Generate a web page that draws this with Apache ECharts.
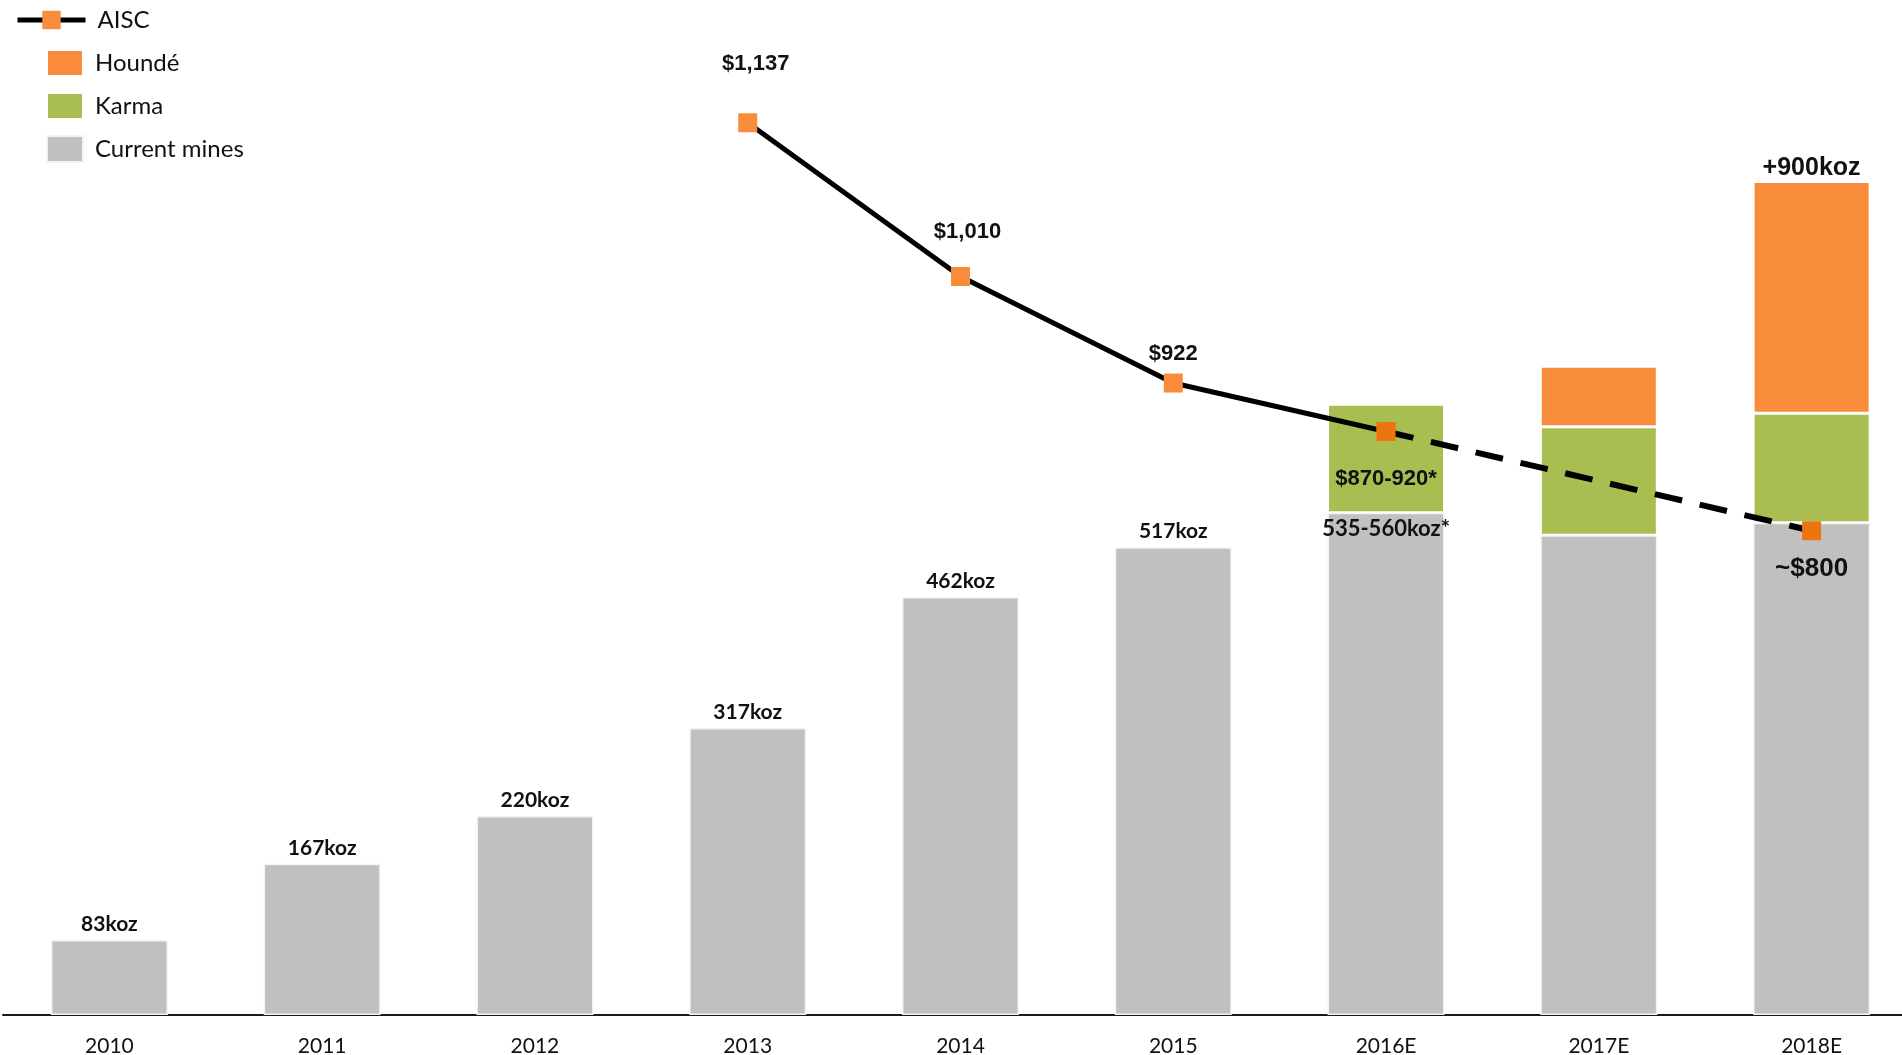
<!DOCTYPE html>
<html>
<head>
<meta charset="utf-8">
<title>Production and AISC</title>
<script src="https://cdn.jsdelivr.net/npm/echarts@6/dist/echarts.min.js"></script>
<style>
  html, body { margin: 0; padding: 0; background: #ffffff; }
  #chart { width: 1902px; height: 1055px; }
</style>
</head>
<body>
<div id="chart"></div>
<script>
// Categories
const years = ['2010', '2011', '2012', '2013', '2014', '2015', '2016E', '2017E', '2018E'];

// Gold production, koz
const currentMines = [83, 167, 220, 317, 462, 517, 555, 530, 544];
const karma        = [null, null, null, null, null, null, 120, 120, 121];
const hounde       = [null, null, null, null, null, null, null, 67, 256];

// All-in sustaining cost, $/oz
const aiscActual   = [null, null, null, 1137, 1010, 922, 882, null, null];
const aiscForecast = [null, null, null, null, null, null, 882, null, 800];

// Text labels
const productionLabels = ['83koz', '167koz', '220koz', '317koz', '462koz', '517koz', '535-560koz*', '', ''];
const totalLabels      = ['', '', '', '', '', '', '', '', '+900koz'];
const aiscLabels       = ['', '', '', '$1,137', '$1,010', '$922', '$870-920*', '', '~$800'];

// Label placement for the AISC markers (position + nudge in px)
const aiscLabelPlace = {
  3: { position: 'top', offset: [8, -38] },
  4: { position: 'top', offset: [7, -24] },
  5: { position: 'top', offset: [0, -9] },
  6: { position: 'bottom', offset: [0, 27] },
  8: { position: 'bottom', offset: [0, 16], fontSize: 26 }
};

const GRAY = '#C0C0C0';
const GREEN = '#A8BE50';
const ORANGE = '#F98C3A';
const ORANGE_DARK = '#EC7512';
const TEXT = '#111111';
const ARIAL = '"Liberation Sans", Arial, sans-serif';
const CAL = 'Lato, "Open Sans", sans-serif';

function aiscData(values, from, to) {
  return values.map((v, i) => {
    if (v === null) return null;
    const place = aiscLabelPlace[i];
    const item = { value: v };
    if (place && i >= from && i <= to) {
      item.label = {
        show: true,
        position: place.position,
        offset: place.offset,
        fontSize: place.fontSize || 22
      };
    } else {
      item.label = { show: false };
    }
    return item;
  });
}

// The 2016E guidance label sits just inside the top of its bar
const currentMinesData = currentMines.map((v, i) =>
  i === 6 ? { value: v, label: { position: 'insideTop', distance: 5, fontSize: 22 } } : v
);

const chart = echarts.init(document.getElementById('chart'), null, { renderer: 'canvas' });

const option = {
  animation: false,
  backgroundColor: '#ffffff',
  grid: {
    left: 3, top: 15, width: 1915, height: 1000,
    containLabel: false, outerBoundsMode: 'none'
  },
  legend: [
    {
      data: ['AISC'],
      orient: 'vertical',
      left: 10,
      top: 3,
      itemWidth: 68,
      itemHeight: 23,
      lineStyle: { width: 5, color: '#000000' },
      textStyle: { fontFamily: CAL, fontSize: 24, color: TEXT, padding: [0, 0, 0, 7] },
      selectedMode: false
    },
    {
      data: ['Houndé', 'Karma', 'Current mines'],
      orient: 'vertical',
      left: 41,
      top: 44,
      itemWidth: 36,
      itemHeight: 26,
      itemGap: 15,
      icon: 'rect',
      textStyle: { fontFamily: CAL, fontSize: 24, color: TEXT, padding: [0, 0, 0, 7] },
      selectedMode: false
    }
  ],
  xAxis: {
    type: 'category',
    data: years,
    boundaryGap: true,
    axisTick: { show: false },
    axisLine: { show: true, lineStyle: { color: '#1a1a1a', width: 2 } },
    axisLabel: { fontFamily: CAL, fontSize: 21, color: TEXT, margin: 21 },
    splitLine: { show: false }
  },
  yAxis: [
    { type: 'value', min: 0, max: 1105, show: false, splitLine: { show: false } },
    { type: 'value', min: 400, max: 1226, show: false, splitLine: { show: false } }
  ],
  series: [
    {
      name: 'Current mines',
      type: 'bar',
      stack: 'production',
      barWidth: 117,
      data: currentMinesData,
      itemStyle: { color: GRAY, borderColor: '#f4f4f4', borderWidth: 1.5 },
      label: {
        show: true,
        position: 'top',
        distance: 5,
        fontFamily: CAL,
        fontWeight: 'bold',
        fontSize: 21,
        color: TEXT,
        formatter: p => productionLabels[p.dataIndex]
      },
      z: 2
    },
    {
      name: 'Karma',
      type: 'bar',
      stack: 'production',
      barWidth: 117,
      data: karma,
      itemStyle: { color: GREEN, borderColor: '#ffffff', borderWidth: 1.5 },
      z: 2
    },
    {
      name: 'Houndé',
      type: 'bar',
      stack: 'production',
      barWidth: 117,
      data: hounde,
      itemStyle: { color: ORANGE, borderColor: '#ffffff', borderWidth: 1.5 },
      label: {
        show: true,
        position: 'top',
        distance: 1,
        fontFamily: ARIAL,
        fontWeight: 'bold',
        fontSize: 25,
        color: TEXT,
        formatter: p => totalLabels[p.dataIndex]
      },
      z: 2
    },
    {
      name: 'AISC',
      type: 'line',
      yAxisIndex: 1,
      data: aiscData(aiscActual, 0, 5),
      symbol: 'rect',
      symbolSize: 19,
      showSymbol: true,
      lineStyle: { color: '#000000', width: 5 },
      itemStyle: { color: ORANGE, borderWidth: 0 },
      label: {
        show: true,
        distance: 0,
        fontFamily: ARIAL,
        fontWeight: 'bold',
        fontSize: 22,
        color: TEXT,
        formatter: p => aiscLabels[p.dataIndex]
      },
      z: 3
    },
    {
      name: 'AISC',
      type: 'line',
      yAxisIndex: 1,
      data: aiscData(aiscForecast, 6, 8),
      connectNulls: true,
      symbol: 'rect',
      symbolSize: 19,
      showSymbol: true,
      lineStyle: { color: '#000000', width: 6, type: [28, 18] },
      itemStyle: { color: ORANGE_DARK, borderWidth: 0 },
      label: {
        show: true,
        distance: 0,
        fontFamily: ARIAL,
        fontWeight: 'bold',
        fontSize: 22,
        color: TEXT,
        formatter: p => aiscLabels[p.dataIndex]
      },
      z: 4
    }
  ]
};

chart.setOption(option);
</script>
</body>
</html>
